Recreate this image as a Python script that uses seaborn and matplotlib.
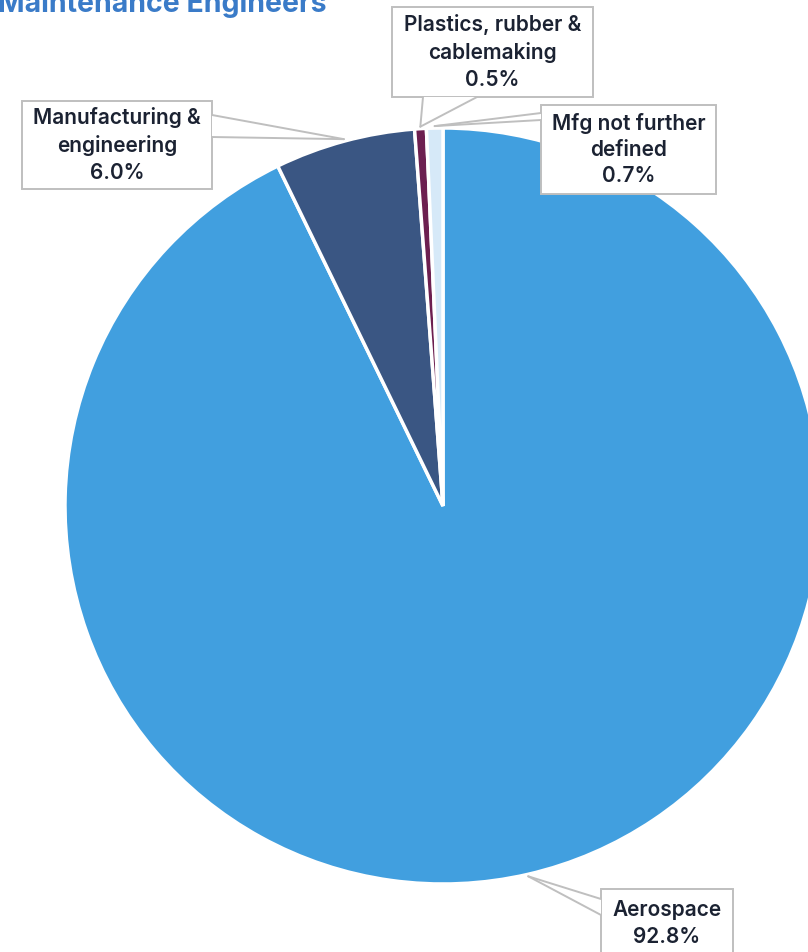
import numpy as np
import matplotlib
matplotlib.use("Agg")
import matplotlib.pyplot as plt
import seaborn as sns
from matplotlib.patches import Rectangle, Polygon

# datos del grafico
categorias = ["Aerospace", "Manufacturing &\nengineering", "Plastics, rubber &\ncablemaking", "Mfg not further\ndefined"]
porcentajes = [92.8, 6.0, 0.5, 0.7]
colores = ["#419FDF", "#3A5683", "#6C1F50", "#D6E9F8"]
titulo = "Maintenance Engineers"

W, H = 808, 952

# cajas de etiquetas: (x0, y0, x1, y1) en pixeles desde arriba-izquierda
cajas = [(601, 889, 733, 958), (22, 101, 212, 189), (392, 7, 593, 97), (541, 105, 716, 194)]
# base de la flecha de cada caja (dos puntos sobre el borde)
bases = [((601, 899), (601, 915)), ((212, 115), (212, 137)),
         ((423, 97), (477, 97)), ((541, 113), (541, 120))]

sns.set_style("white")
plt.rcParams['font.family'] = ['Inter', 'DejaVu Sans']

fig = plt.figure(figsize=(W / 100, H / 100), dpi=100)
ax = fig.add_axes([0, 0, 1, 1])

centro = (443, H - 506)
radio = 378

wedges, _ = ax.pie(
    porcentajes,
    colors=colores,
    startangle=90,
    counterclock=False,
    center=centro,
    radius=radio,
    wedgeprops=dict(edgecolor='white', linewidth=2.5),
    frame=True
)
ax.set_xlim(0, W)
ax.set_ylim(0, H)
ax.set_aspect('equal')
ax.axis('off')

gris = '#BFBFBF'
for w, cat, val, caja, base in zip(wedges, categorias, porcentajes, cajas, bases):
    ang = np.deg2rad((w.theta1 + w.theta2) / 2)
    punta = (centro[0] + (radio + 2) * np.cos(ang), centro[1] + (radio + 2) * np.sin(ang))
    x0, y0, x1, y1 = caja
    # caja
    ax.add_patch(Rectangle((x0, H - y1), x1 - x0, y1 - y0, fc='white', ec=gris, lw=1.4, zorder=5))
    # cuña de la llamada
    b1 = (base[0][0], H - base[0][1])
    b2 = (base[1][0], H - base[1][1])
    ax.add_patch(Polygon([b1, punta, b2], closed=True, fc='white', ec='none', zorder=6))
    ax.plot([b1[0], punta[0]], [b1[1], punta[1]], color=gris, lw=1.4, zorder=7, solid_capstyle='round')
    ax.plot([b2[0], punta[0]], [b2[1], punta[1]], color=gris, lw=1.4, zorder=7, solid_capstyle='round')
    ax.text((x0 + x1) / 2, H - (y0 + y1) / 2, f"{cat}\n{val:.1f}%",
            ha='center', va='center', fontsize=15, fontweight='semibold',
            color='#1B2232', linespacing=1.4, zorder=8)

fig.text(-0.003, 1 - 12 / H, titulo, ha='left', va='baseline',
         fontsize=20.5, fontweight='bold', color='#3A7BC8')

plt.savefig("out.png", dpi=100)
